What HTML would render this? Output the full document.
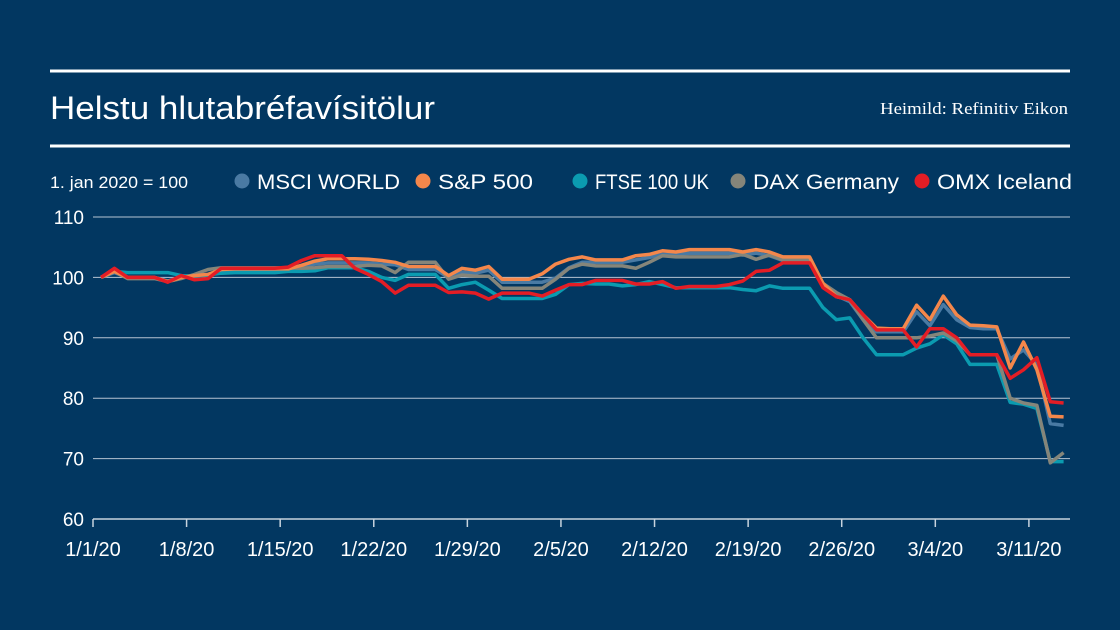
<!DOCTYPE html>
<html><head><meta charset="utf-8"><style>
html,body{margin:0;padding:0;background:#023761;}
svg{display:block;font-family:"Liberation Sans",sans-serif;}
</style></head><body>
<svg id="c" width="1120" height="630" viewBox="0 0 1120 630">
<rect width="1120" height="630" fill="#023761"/>
<line x1="50" y1="71" x2="1070" y2="71" stroke="#fff" stroke-width="3"/>
<text x="50" y="119" fill="#fff" font-size="32" textLength="385" lengthAdjust="spacingAndGlyphs">Helstu hlutabréfavísitölur</text>
<text x="1068" y="114" fill="#fff" font-size="17" text-anchor="end" textLength="188" lengthAdjust="spacingAndGlyphs" font-family="Liberation Serif, serif">Heimild: Refinitiv Eikon</text>
<line x1="50" y1="146" x2="1070" y2="146" stroke="#fff" stroke-width="3"/>
<text x="50" y="188" fill="#fff" font-size="17" textLength="138" lengthAdjust="spacingAndGlyphs">1. jan 2020 = 100</text>
<g id="legend"></g>
<g id="grid"></g>
<g id="lines"></g>
</svg>
<script>
const seriesNames=["MSCI WORLD","S&P 500","FTSE 100 UK","DAX Germany","OMX Iceland"];
const seriesColors=["#4a7aa3","#f4874b","#0b9bb0","#85857a","#e41d25"];
const xTickLabels=["1/1/20","1/8/20","1/15/20","1/22/20","1/29/20","2/5/20","2/12/20","2/19/20","2/26/20","3/4/20","3/11/20"];
const xTickDays=[0,7,14,21,28,35,42,49,56,63,70];
const yTicks=[60,70,80,90,100,110];
const msci=[100,100.8,100,100,100,99.4,100,100.2,100.4,101,101.2,101.2,101.2,101.2,101.2,101.6,102.2,102.4,102.4,102.4,102.4,102.2,102.1,101.3,101.3,101.3,100,100.9,100.7,101.2,99.2,99.2,99.2,99.2,99.9,101.6,102.5,102.5,102.5,102.5,102.9,103.3,103.8,103.8,104,104,104,104,103.7,104,103.6,102.8,102.8,102.8,99,97,96,93,91,91,91,94.3,92,95.5,93,91.7,91.5,91.5,86.5,88,85.5,75.8,75.5];
const sp500=[100,101,100,100,100,99.3,100,100.3,100.5,101.3,101.4,101.4,101.4,101.4,101.4,102,102.7,103.1,103.1,103.1,103,102.8,102.5,101.8,101.8,101.8,100.3,101.5,101.2,101.8,99.7,99.7,99.7,100.6,102.2,103,103.4,102.9,102.9,102.9,103.6,103.8,104.4,104.2,104.6,104.6,104.6,104.6,104.2,104.6,104.2,103.4,103.4,103.4,99,96.8,96.3,93.8,91.6,91.5,91.5,95.4,93,96.9,93.8,92.1,92,91.8,85,89.3,84.7,77,76.9];
const ftse=[100,101,100.8,100.8,100.8,100.8,100.3,100.2,100.4,100.7,100.8,100.8,100.8,100.8,101,101,101.1,101.6,101.6,101.6,101,100,99.5,100.5,100.5,100.5,98.2,98.8,99.2,97.9,96.5,96.5,96.5,96.5,97.2,98.8,99,98.9,98.9,98.6,98.8,99.3,98.8,98.3,98.3,98.3,98.3,98.3,98,97.8,98.6,98.2,98.2,98.2,95,93,93.3,90,87.2,87.2,87.2,88.3,89,90.5,89,85.6,85.6,85.6,79.3,79,78.3,69.5,69.5];
const dax=[100,101,99.8,99.8,99.8,99.3,99.8,100.5,101.3,101.6,101.6,101.6,101.6,101.6,101.6,101.5,101.6,101.8,101.8,101.8,102,101.9,100.8,102.5,102.5,102.5,99.7,100.4,100.2,100.2,98.2,98.2,98.2,98.2,99.7,101.5,102.2,101.9,101.9,101.9,101.5,102.5,103.6,103.4,103.4,103.4,103.4,103.4,103.8,103,103.7,102.9,102.9,102.9,99,97.5,96.3,93,90,90,90,90,90.3,90.8,89.5,87.2,87.2,87.2,80,79.2,78.8,69.3,71];
const omx=[100,101.5,100,100,100,99.2,100.3,99.6,99.8,101.5,101.5,101.5,101.5,101.5,101.7,102.8,103.6,103.6,103.6,101.5,100.5,99.3,97.4,98.7,98.7,98.7,97.5,97.6,97.4,96.4,97.4,97.4,97.4,96.9,97.9,98.8,98.8,99.5,99.5,99.5,98.9,98.9,99.3,98.2,98.5,98.5,98.5,98.8,99.4,101,101.2,102.4,102.4,102.4,98.3,96.8,96.3,93.8,91.3,91.3,91.3,88.5,91.5,91.5,90,87.2,87.2,87.2,83.3,84.7,86.7,79.4,79.2];
const allSeries=[msci,sp500,ftse,dax,omx];

const NS="http://www.w3.org/2000/svg";
function x(d){return 101+d*13.37;}
function y(v){return 519-(v-60)*6.04;}
function mk(tag,attrs,parent){const e=document.createElementNS(NS,tag);for(const k in attrs)e.setAttribute(k,attrs[k]);parent.appendChild(e);return e;}
const grid=document.getElementById('grid'),lines=document.getElementById('lines'),legend=document.getElementById('legend');

yTicks.forEach(v=>{
  if(v>60){const gl=mk('line',{x1:93,x2:1070,y1:y(v),y2:y(v),stroke:'#b6c4d3','stroke-width':1},grid);
  
  }
  const t=mk('text',{x:84,y:y(v)+7,fill:'#fff','font-size':19,'text-anchor':'end'},grid);
  t.textContent=v;
  
  
});
const ax=mk('line',{x1:93,x2:1070,y1:519,y2:519,stroke:'#c8d3de','stroke-width':1.5},grid);


xTickDays.forEach((d,i)=>{
  const tx=x(d)-8;
  const tk=mk('line',{x1:tx,x2:tx,y1:519,y2:527,stroke:'#c8d3de','stroke-width':1.5},grid);
  
  
  const t=mk('text',{x:tx,y:556,fill:'#fff','font-size':20,'text-anchor':'middle'},grid);
  t.textContent=xTickLabels[i];
  
  
});
[0,2,3,1,4].forEach(s=>{
  const pts=allSeries[s].map((v,i)=>x(i).toFixed(1)+','+y(v).toFixed(1)).join(' ');
  const p=mk('polyline',{points:pts,fill:'none',stroke:seriesColors[s],'stroke-width':3.5,'stroke-linejoin':'round'},lines);
  
  
});
const legX=[242,423,580,738,922];
const legW=[143,95,114,146,135];
seriesNames.forEach((n,i)=>{
  const g=mk('g',{},legend);
  
  
  mk('circle',{cx:legX[i],cy:181,r:7.5,fill:seriesColors[i]},g);
  const t=mk('text',{x:legX[i]+15,y:189,fill:'#fff','font-size':21,textLength:legW[i],lengthAdjust:'spacingAndGlyphs'},g);
  t.textContent=n;
});
</script>
</body></html>
